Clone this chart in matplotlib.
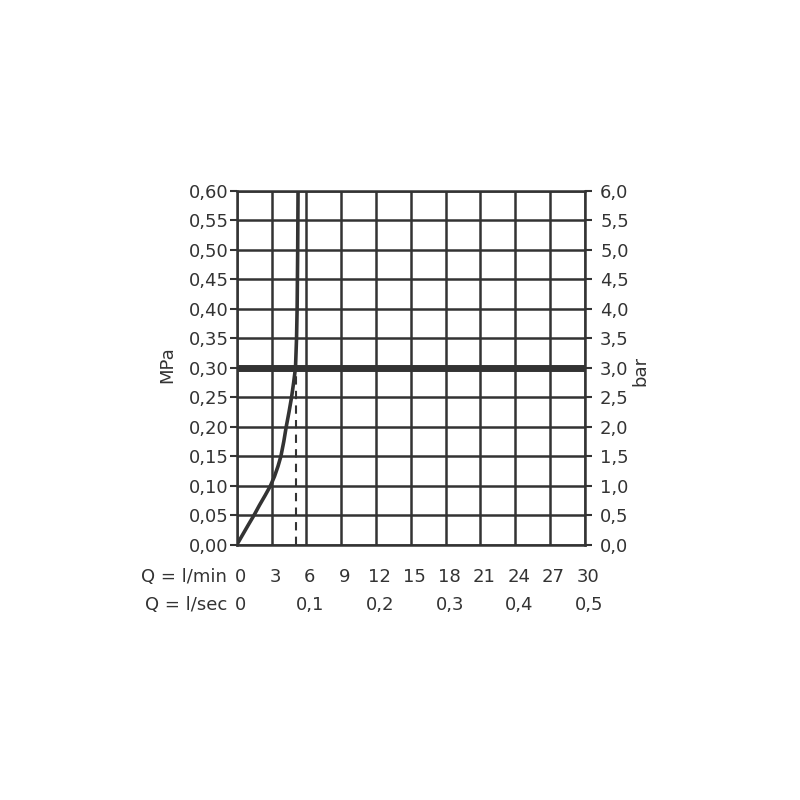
import matplotlib
matplotlib.use('Agg')
import matplotlib.pyplot as plt

# flow curve (l/min vs MPa)
flow_lmin = [0, 0.5, 1.0, 1.48, 1.95, 2.45, 2.9, 3.25, 3.55, 3.8, 4.05, 4.26,
             4.5, 4.72, 4.9, 5.06, 5.15, 5.2, 5.25, 5.28]
press_mpa = [0, 0.017, 0.034, 0.05, 0.067, 0.084, 0.10, 0.116, 0.133, 0.15,
             0.175, 0.20, 0.225, 0.25, 0.275, 0.30, 0.35, 0.40, 0.50, 0.60]

mpa_ticks = [0.00, 0.05, 0.10, 0.15, 0.20, 0.25, 0.30, 0.35, 0.40, 0.45, 0.50, 0.55, 0.60]
mpa_labels = ['0,00', '0,05', '0,10', '0,15', '0,20', '0,25', '0,30',
              '0,35', '0,40', '0,45', '0,50', '0,55', '0,60']
bar_ticks = [0.0, 0.5, 1.0, 1.5, 2.0, 2.5, 3.0, 3.5, 4.0, 4.5, 5.0, 5.5, 6.0]
bar_labels = ['0,0', '0,5', '1,0', '1,5', '2,0', '2,5', '3,0',
              '3,5', '4,0', '4,5', '5,0', '5,5', '6,0']
lmin_ticks = [0, 3, 6, 9, 12, 15, 18, 21, 24, 27, 30]
lsec_ticks = [0, 6, 12, 18, 24, 30]
lsec_labels = ['0', '0,1', '0,2', '0,3', '0,4', '0,5']

working_pressure = 0.30
working_flow = 5.1

ink = '#333333'
plt.rcParams['font.family'] = ['DejaVu Sans']
fs = 13

fig = plt.figure(figsize=(8, 8), dpi=100)
ax = fig.add_axes([0.296, 0.319, 0.435, 0.4425])
ax.set_xlim(0, 30)
ax.set_ylim(0, 0.60)

for x in lmin_ticks:
    ax.axvline(x, color=ink, lw=1.8, zorder=1)
for y in mpa_ticks:
    ax.axhline(y, color=ink, lw=1.8, zorder=1)

ax.axhline(working_pressure, color=ink, lw=5, zorder=2)
ax.plot([working_flow, working_flow], [0, working_pressure], color=ink,
        lw=1.5, ls=(0, (4, 3)), zorder=2)
ax.plot(flow_lmin, press_mpa, color=ink, lw=2.6, zorder=3,
        solid_joinstyle='round')

for s in ax.spines.values():
    s.set_color(ink)
    s.set_linewidth(1.8)

ax.set_yticks(mpa_ticks)
ax.set_yticklabels(mpa_labels, fontsize=fs, color=ink)
ax.set_xticks([])
ax.tick_params(axis='y', length=5, width=1.5, color=ink, pad=1)
ax.set_ylabel('MPa', fontsize=fs, color=ink, va='center')
ax.yaxis.set_label_coords(-0.201, 0.51)

ax2 = ax.twinx()
ax2.set_ylim(0, 6.0)
ax2.set_yticks(bar_ticks)
ax2.set_yticklabels(bar_labels, fontsize=fs, color=ink)
ax2.tick_params(axis='y', length=5, width=1.5, color=ink, pad=6)
ax2.set_ylabel('bar', fontsize=fs, color=ink, rotation=90, va='center')
ax2.yaxis.set_label_coords(1.161, 0.49)
for s in ax2.spines.values():
    s.set_visible(False)

# bottom scale rows
tr = ax.get_xaxis_transform()
for x in lmin_ticks:
    ax.text(x + 0.3, -0.09, str(x), transform=tr, ha='center', va='center',
            fontsize=fs, color=ink)
for x, lab in zip(lsec_ticks, lsec_labels):
    ax.text(x + 0.35, -0.17, lab, transform=tr, ha='center', va='center',
            fontsize=fs, color=ink)
ax.text(-0.86, -0.09, 'Q = l/min', transform=tr, ha='right', va='center',
        fontsize=fs, color=ink)
ax.text(-0.86, -0.17, 'Q = l/sec', transform=tr, ha='right', va='center',
        fontsize=fs, color=ink)

fig.savefig('out.png', dpi=100)
